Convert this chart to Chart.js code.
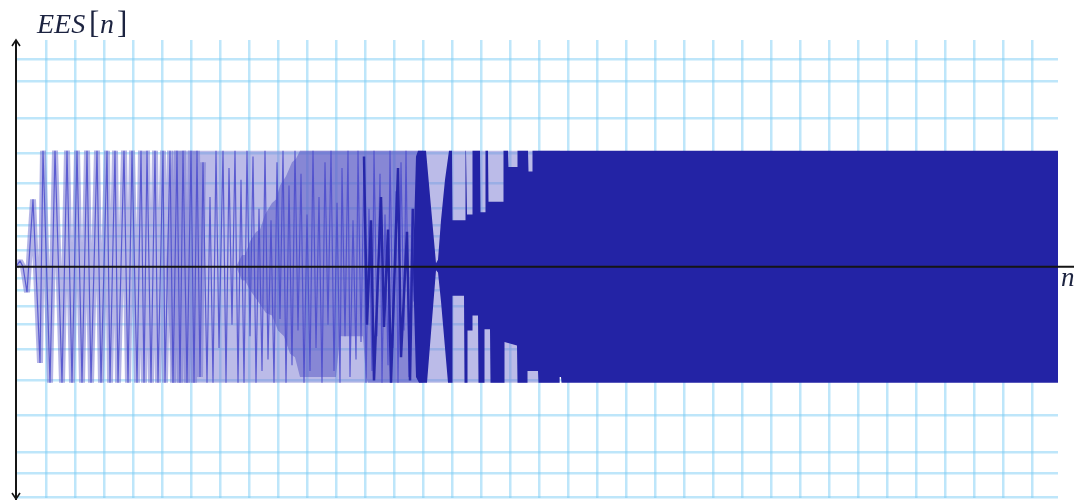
<!DOCTYPE html>
<html>
<head>
<meta charset="utf-8">
<script src="https://cdn.jsdelivr.net/npm/chart.js@4.4.1/dist/chart.umd.min.js"></script>
<style>
  html, body { margin: 0; padding: 0; background: #ffffff; }
  canvas { display: block; }
</style>
</head>
<body>
<canvas id="eesChart" width="1074" height="500"></canvas>
<script>
// sample index n and value EES[n] at each stroke end
const sigN = [0, 4, 7, 11, 17, 24, 27, 34, 39, 46, 51, 56, 61, 66, 71, 75, 81, 85, 91, 94, 99, 102, 108, 112, 116, 121,
  125, 128, 131, 135, 139, 142, 147, 149, 154, 157, 161, 164, 167, 171, 175, 178, 181, 184, 187, 191, 194, 197, 200,
  203, 207, 210, 213, 216, 219, 222, 225, 228, 231, 234, 237, 240, 243, 246, 249, 252, 255, 258, 261, 264, 267, 270,
  273, 276, 279, 282, 285, 288, 291, 294, 297, 300, 303, 306, 309, 312, 315, 318, 321, 324, 326, 329, 332, 334, 337,
  340, 342, 345, 348, 350, 353, 356, 358, 361, 364, 366, 369, 372, 374, 377, 380, 382, 385, 388, 390, 393, 396, 398];
const sigV = [0, 0.05, 0, -0.22, 0.58, -0.83, 1, -1, 1, -1, 1, -1, 1, -1, 1, -1, 1, -1, 1, -1, 1, -1, 1, -1, 1, -1,
  1, -1, 1, -1, 1, -1, 1, -1, 1, -1, 1, -1, 1, -1, 1, -1, 1, -0.95, 0.9, -1, 0.6, -1, 1,
  -0.7, 1, -1, 0.85, -0.5, 1, -1, 0.75, -1, 1, -0.6, 0.95, -1, 0.5, -0.9, 1, -0.8, 0.4, -1,
  0.9, -0.45, 1, -1, 0.7, -0.85, 1, -0.55, 0.8, -1, 0.45, -0.9, 1, -0.7, 0.6, -1, 0.9, -0.5, 1, -0.9, 0.55, -1,
  0.85, -0.6, 1, -0.95, 0.4, -0.8, 1, -0.65, 0.9, -1, 0.5, -0.9, 1, -0.6, 0.8, -1, 0.45, -0.85, 1, -0.7, 0.65, -1, 0.9, -0.55, 1, -0.95, 0.5, -0.3];

// the heavier dark strokes just before the dense part
const darkStrokeN = [348, 351, 355, 358, 365, 368, 372, 375, 382, 385, 391, 394, 397];
const darkStrokeV = [0.95, -0.5, 0.4, -0.98, 0.6, -0.52, 0.32, -1, 0.85, -0.78, 0.3, -0.98, 0.5];

// light shade under the packed strokes
const lightN = [150, 156, 544];
const lightTop = [0, 1, 1];
const lightBottom = [0, -1, -1];

// mid shade (where strokes overlap)
const midTopN = [220, 226, 229, 234, 240, 244, 249, 256, 260, 264, 270, 276, 280, 284, 407, 419, 420];
const midTopV = [0, 0.1, 0.1, 0.22, 0.3, 0.32, 0.45, 0.55, 0.58, 0.7, 0.78, 0.9, 0.93, 1, 1, 0.05, 0];
const midBotN = [220, 226, 229, 234, 242, 250, 256, 262, 268, 274, 279, 284, 320, 324, 347, 350, 352, 407, 419, 420];
const midBotV = [0, -0.12, -0.12, -0.2, -0.3, -0.4, -0.42, -0.55, -0.6, -0.75, -0.78, -0.95, -0.95, -0.6, -0.6, -0.95, -1, -1, -0.05, 0];

// solid part, upper and lower edge
const darkTopN = [397, 400, 402, 410, 420, 422, 425, 429, 433, 436, 436.5, 449, 449.5, 450, 451, 456, 456.5, 464, 464.5,
  469, 469.5, 472, 472.5, 487, 487.5, 492, 492.5, 501, 501.5, 512, 512.5, 516, 516.5, 1042];
const darkTopV = [0, 0.95, 1, 1, 0.03, 0.06, 0.4, 0.75, 1, 1, 0.4, 0.4, 1, 1, 0.45, 0.45, 1, 1, 0.47,
  0.47, 1, 1, 0.56, 0.56, 1, 1, 0.86, 0.86, 1, 1, 0.82, 0.82, 1, 1];
const darkBotN = [397, 400, 403, 411, 420, 422, 425, 428, 432, 436, 436.5, 448, 448.5, 451, 451.5, 456, 456.5, 462, 462.5,
  468, 468.5, 474, 474.5, 488, 488.5, 501, 501.5, 511, 511.5, 522, 522.5, 543, 543.5, 545, 545.5, 1042];
const darkBotV = [0, -0.95, -1, -1, -0.03, -0.05, -0.3, -0.6, -1, -1, -0.25, -0.25, -1, -1, -0.55, -0.55, -0.42, -0.42, -1,
  -1, -0.54, -0.54, -1, -1, -0.65, -0.68, -1, -1, -0.9, -0.9, -1, -1, -0.95, -0.95, -1, -1];

// grid positions
const gridN = [30, 59, 88, 117, 146, 175, 204, 233, 262, 291, 320, 349, 378, 407, 436, 465, 494, 523, 552, 581, 610,
  639, 668, 697, 726, 755, 784, 813, 842, 871, 900, 929, 958, 987, 1016];
const gridV = [1.79, 1.6, 1.28, 0.98, 0.72, 0.5, 0.36, 0.26, 0.14, -0.1, -0.2, -0.34, -0.5, -0.71, -0.98, -1.28, -1.6, -1.78, -1.99];

const pts = (ns, vs) => ns.map((n, i) => ({ x: n, y: vs[i] }));

function area(label, ns, vs, color, order) {
    return { label, data: pts(ns, vs), fill: 'origin', backgroundColor: color, borderWidth: 0, pointRadius: 0, tension: 0, order };
}
function trace(label, ns, vs, color, width, order) {
    return { label, data: pts(ns, vs), fill: false, borderColor: color, borderWidth: width, borderJoinStyle: 'bevel',
        pointRadius: 0, tension: 0, order };
}

const firstPart = sigN.filter(n => n <= 190).length;

// axes with arrows and the math labels
const axesPlugin = {
    id: 'axesPlugin',
    afterDatasetsDraw(chart) {
        const { ctx, chartArea: a, scales: { y } } = chart;
        const y0 = y.getPixelForValue(0);
        ctx.save();
        ctx.strokeStyle = '#151515';
        ctx.lineWidth = 2;
        ctx.beginPath();
        ctx.moveTo(a.left, y0);
        ctx.lineTo(chart.width, y0);
        ctx.moveTo(a.left, a.top);
        ctx.lineTo(a.left, chart.height);
        ctx.stroke();
        ctx.lineWidth = 1.6;
        ctx.beginPath();
        ctx.moveTo(a.left - 4, a.top + 6);
        ctx.lineTo(a.left, a.top);
        ctx.lineTo(a.left + 4, a.top + 6);
        ctx.moveTo(a.left - 4, chart.height - 7);
        ctx.lineTo(a.left, chart.height - 1);
        ctx.lineTo(a.left + 4, chart.height - 7);
        ctx.stroke();

        ctx.fillStyle = '#1c2340';
        ctx.textBaseline = 'alphabetic';
        ctx.font = 'italic 28px "Liberation Serif"';
        ctx.fillText('EES', 37, 33);
        ctx.font = '31px "Liberation Serif"';
        ctx.fillText('[', 89, 33);
        ctx.font = 'italic 28px "Liberation Serif"';
        ctx.fillText('n', 100, 33);
        ctx.font = '31px "Liberation Serif"';
        ctx.fillText(']', 117, 33);
        ctx.font = 'italic 27px "Liberation Serif"';
        ctx.fillText('n', 1061, y0 + 19);
        ctx.restore();
    }
};

const gridColor = 'rgba(125, 205, 245, 0.5)';

new Chart(document.getElementById('eesChart').getContext('2d'), {
    type: 'line',
    data: {
        datasets: [
            area('dark top', darkTopN, darkTopV, '#2323a5', 1),
            area('dark bottom', darkBotN, darkBotV, '#2323a5', 1),
            trace('dark strokes', darkStrokeN, darkStrokeV, 'rgba(36, 36, 168, 0.95)', 2.5, 2),
            trace('EES[n]', sigN, sigV, 'rgba(75, 75, 205, 0.85)', 1.2, 3),
            trace('EES[n] shade', sigN.slice(0, firstPart), sigV.slice(0, firstPart), 'rgba(120, 120, 210, 0.55)', 6, 4),
            area('mid top', midTopN, midTopV, 'rgba(70, 70, 190, 0.45)', 5),
            area('mid bottom', midBotN, midBotV, 'rgba(70, 70, 190, 0.45)', 5),
            area('light top', lightN, lightTop, 'rgba(120, 120, 210, 0.5)', 6),
            area('light bottom', lightN, lightBottom, 'rgba(120, 120, 210, 0.5)', 6)
        ]
    },
    options: {
        responsive: false,
        animation: false,
        layout: { padding: { left: 16, right: 16, top: 40, bottom: 2 } },
        plugins: { legend: { display: false }, tooltip: { enabled: false } },
        scales: {
            x: {
                type: 'linear',
                min: 0,
                max: 1042,
                bounds: 'data',
                border: { display: false },
                grid: { color: gridColor, lineWidth: 2.5, drawTicks: false },
                ticks: { display: false },
                afterBuildTicks: s => { s.ticks = gridN.map(v => ({ value: v })); }
            },
            y: {
                min: -1.994,
                max: 1.954,
                bounds: 'data',
                border: { display: false },
                grid: { color: gridColor, lineWidth: 2.5, drawTicks: false },
                ticks: { display: false },
                afterBuildTicks: s => { s.ticks = gridV.map(v => ({ value: v })); }
            }
        }
    },
    plugins: [axesPlugin]
});
</script>
</body>
</html>
